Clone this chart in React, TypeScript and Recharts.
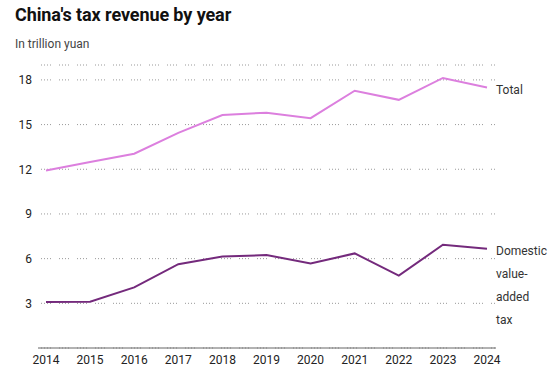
import React from 'react';
import { LineChart, Line, XAxis, YAxis, CartesianGrid, LabelList } from 'recharts';

const years = ['2014', '2015', '2016', '2017', '2018', '2019', '2020', '2021', '2022', '2023', '2024'];
const totalTax = [11.92, 12.49, 13.04, 14.44, 15.64, 15.8, 15.43, 17.27, 16.66, 18.13, 17.49];
const domesticVat = [3.09, 3.11, 4.07, 5.63, 6.15, 6.24, 5.68, 6.35, 4.86, 6.93, 6.67];
const yTicks = [3, 6, 9, 12, 15, 18];
const totalLabel = ['Total'];
const vatLabel = ['Domestic', 'value-', 'added', 'tax'];

const data = years.map((year, i) => ({ year, total: totalTax[i], vat: domesticVat[i] }));

const font = 'Roboto, "Noto Sans", Arial, sans-serif';
const totalColor = '#dc7fde';
const vatColor = '#742a7c';

// end-of-line label, drawn only on the last point
const endLabel = (lines: string[]) => (props: any) => {
  const { x, y, index } = props;
  if (index !== years.length - 1) return null;
  const n = lines.length;
  return (
    <text x={x + 9} y={y} fontSize={12} fill="#333" fontFamily={font}>
      {lines.map((t, i) => (
        <tspan key={t} x={x + 9} dy={i === 0 ? (n === 1 ? 7 : 6) : 23}>{t}</tspan>
      ))}
    </text>
  );
};

export default function App() {
  return (
    <div style={{ position: 'absolute', left: 0, top: 0, width: 551, height: 373, background: '#fff', fontFamily: font }}>
      <div style={{ position: 'absolute', left: 15, top: 6, fontSize: 18, lineHeight: '18px', fontWeight: 700, color: '#111', letterSpacing: -0.1 }}>
        China's tax revenue by year
      </div>
      <div style={{ position: 'absolute', left: 15, top: 38, fontSize: 12, lineHeight: '12px', color: '#444' }}>
        In trillion yuan
      </div>
      <div style={{ position: 'absolute', left: 0, top: 0 }}>
        <LineChart width={551} height={373} data={data} margin={{ top: 65, right: 55, bottom: 0, left: 0 }}>
          <CartesianGrid vertical={false} stroke="#999" strokeDasharray="0 3 1 2 1 2 1 2 1 5" />
          <XAxis
            dataKey="year"
            height={25}
            padding={{ left: 8, right: 9 }}
            tickLine={false}
            tickSize={0}
            tickMargin={7}
            axisLine={{ stroke: '#666', strokeWidth: 1 }}
            tick={{ fontSize: 12, fill: '#222', fontFamily: font }}
            interval={0}
          />
          <YAxis
            width={38}
            domain={[0, 19]}
            ticks={yTicks}
            axisLine={false}
            tickLine={false}
            tickSize={0}
            tickMargin={6}
            tick={{ fontSize: 12, fill: '#222', fontFamily: font }}
          />
          <Line type="linear" dataKey="total" stroke={totalColor} strokeWidth={2} dot={false} isAnimationActive={false}>
            <LabelList dataKey="total" content={endLabel(totalLabel)} />
          </Line>
          <Line type="linear" dataKey="vat" stroke={vatColor} strokeWidth={2} dot={false} isAnimationActive={false}>
            <LabelList dataKey="vat" content={endLabel(vatLabel)} />
          </Line>
        </LineChart>
      </div>
    </div>
  );
}
